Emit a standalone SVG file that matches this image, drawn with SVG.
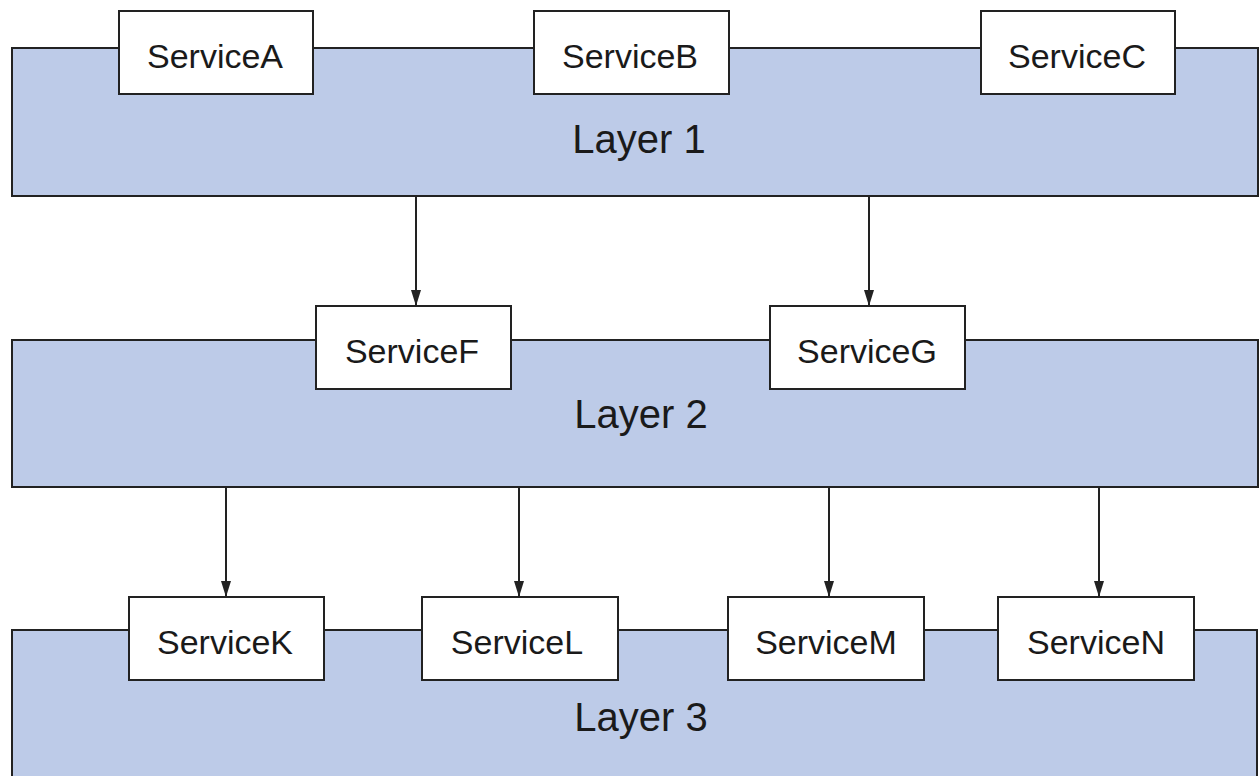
<svg xmlns="http://www.w3.org/2000/svg" width="1259" height="776" viewBox="0 0 1259 776">
<style>
.layer{fill:#bdcbe8;stroke:#222;stroke-width:2}
.svc{fill:#fff;stroke:#222;stroke-width:2}
.lt{font-family:"Liberation Sans",Arial,sans-serif;font-size:40px;fill:#1a1a1a;text-anchor:middle}
.st{font-family:"Liberation Sans",Arial,sans-serif;font-size:34px;fill:#1a1a1a;text-anchor:middle}
.conn{stroke:#222;stroke-width:2;fill:none;marker-end:url(#arr)}
</style>
<defs>
<marker id="arr" viewBox="0 0 16 10" refX="16" refY="5" markerWidth="16" markerHeight="10" markerUnits="userSpaceOnUse" orient="auto">
<path d="M0,0 L16,5 L0,10 Z" fill="#222"/>
</marker>
</defs>
<rect width="1259" height="776" fill="#fff"/>
<g id="layer1"><rect class="layer" x="12" y="48" width="1246" height="148"/><text class="lt" x="639" y="153">Layer 1</text></g>
<g id="layer2"><rect class="layer" x="12" y="340" width="1246" height="147"/><text class="lt" x="641" y="428">Layer 2</text></g>
<g id="layer3"><rect class="layer" x="12" y="630" width="1245" height="170"/><text class="lt" x="641" y="731">Layer 3</text></g>
<g id="serviceA"><rect class="svc" x="119" y="11" width="194" height="83"/><text class="st" x="215" y="68">ServiceA</text></g>
<g id="serviceB"><rect class="svc" x="534" y="11" width="195" height="83"/><text class="st" x="630" y="68">ServiceB</text></g>
<g id="serviceC"><rect class="svc" x="981" y="11" width="194" height="83"/><text class="st" x="1077" y="68">ServiceC</text></g>
<g id="serviceF"><rect class="svc" x="316" y="306" width="195" height="83"/><text class="st" x="412" y="363">ServiceF</text></g>
<g id="serviceG"><rect class="svc" x="770" y="306" width="195" height="83"/><text class="st" x="867" y="363">ServiceG</text></g>
<g id="serviceK"><rect class="svc" x="129" y="597" width="195" height="83"/><text class="st" x="225" y="654">ServiceK</text></g>
<g id="serviceL"><rect class="svc" x="422" y="597" width="196" height="83"/><text class="st" x="517" y="654">ServiceL</text></g>
<g id="serviceM"><rect class="svc" x="728" y="597" width="196" height="83"/><text class="st" x="826" y="654">ServiceM</text></g>
<g id="serviceN"><rect class="svc" x="998" y="597" width="196" height="83"/><text class="st" x="1096" y="654">ServiceN</text></g>
<g id="connectors">
<line class="conn" x1="416" y1="197" x2="416" y2="306"/>
<line class="conn" x1="869" y1="197" x2="869" y2="306"/>
<line class="conn" x1="226" y1="488" x2="226" y2="597"/>
<line class="conn" x1="519" y1="488" x2="519" y2="597"/>
<line class="conn" x1="829" y1="488" x2="829" y2="597"/>
<line class="conn" x1="1099" y1="488" x2="1099" y2="597"/>
</g>
</svg>
